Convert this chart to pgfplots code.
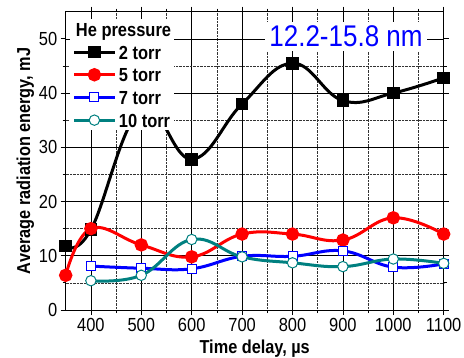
\documentclass[border=0pt]{standalone}
\usepackage{fontspec}
\setmainfont[FakeStretch=0.87]{Liberation Sans}
\usepackage{pgfplots}
\pgfplotsset{compat=1.18}
\definecolor{myteal}{RGB}{0,128,128}
\definecolor{myblue}{RGB}{0,0,255}
\definecolor{myred}{RGB}{255,0,0}
\begin{document}
\begin{tikzpicture}
\begin{axis}[
  at={(0,0)}, anchor=south west,
  scale only axis, width=378bp, height=298.3bp,
  xmin=350, xmax=1100, ymin=0, ymax=55,
  xtick={400,500,...,1100}, ytick={0,10,...,50},
  minor x tick num=1, minor y tick num=1,
  grid=both,
  major grid style={black, line width=0.6pt},
  minor grid style={black!80, densely dotted, line width=0.6pt},
  tick align=outside, tick pos=both,
  major tick length=5bp, minor tick length=3bp,
  every tick/.style={black, line width=0.8pt},
  axis line style={line width=0.8pt},
  /pgf/number format/assume math mode=true,
  /pgf/number format/1000 sep={},
  ticklabel style={font=\fontsize{19}{21}\selectfont},
  label style={font=\fontsize{18.8}{21}\selectfont\bfseries},
  xlabel={Time delay, µs},
  ylabel={Average radiation energy, mJ},
  xlabel style={yshift=-1bp},
  ylabel style={yshift=-2bp},
  legend style={at={(0.0106,0.975)}, anchor=north west, draw=none, fill=white,
    font=\fontsize{19}{21}\selectfont\bfseries, row sep=8.7bp, inner sep=3bp,
    column sep=3bp,
    nodes={inner sep=0pt, text height=14bp, text depth=0bp}},
  legend cell align=left,
  legend image code/.code={\draw[mark repeat=2,mark phase=2] plot coordinates {(0bp,0bp)(20bp,0bp)(40bp,0bp)};},
  every axis plot/.append style={line width=3bp, smooth, tension=0.7},
]
\addlegendimage{empty legend}
\addlegendentry{\hspace*{-43bp}He pressure}

\addplot[black, mark=square*, mark size=4.8bp, mark options={solid}] coordinates {
(350,11.8) (400,14.8) (500,37.0) (600,27.8) (700,38.0) (800,45.5) (900,38.6) (1000,40.0) (1100,42.8)};
\addlegendentry{2 torr}

\addplot[myred, mark=*, mark size=5.2bp, mark options={solid}] coordinates {
(350,6.4) (400,15.0) (500,12.0) (600,9.8) (700,14.0) (800,14.0) (900,12.9) (1000,17.0) (1100,14.0)};
\addlegendentry{5 torr}

\addplot[myblue, mark=square*, mark size=4.5bp, mark options={solid, fill=white, line width=1bp}] coordinates {
(400,8.1) (500,7.7) (600,7.6) (700,9.9) (800,9.9) (900,10.9) (1000,7.9) (1100,8.5)};
\addlegendentry{7 torr}

\addplot[myteal, mark=*, mark size=5.2bp, mark options={solid, fill=white, line width=1bp}] coordinates {
(400,5.4) (500,6.4) (600,13.0) (700,9.8) (800,8.7) (900,8.0) (1000,9.4) (1100,8.6)};
\addlegendentry{10 torr}

\node[fill=white, inner sep=4bp, anchor=base, text=myblue, font=\fontsize{30}{32}\selectfont]
  at (rel axis cs:0.7415,0.8827) {12.2-15.8 nm};
\end{axis}
\pgfresetboundingbox
\path (-65.7bp,-48bp) rectangle (398.3bp,310bp);
\end{tikzpicture}
\end{document}
